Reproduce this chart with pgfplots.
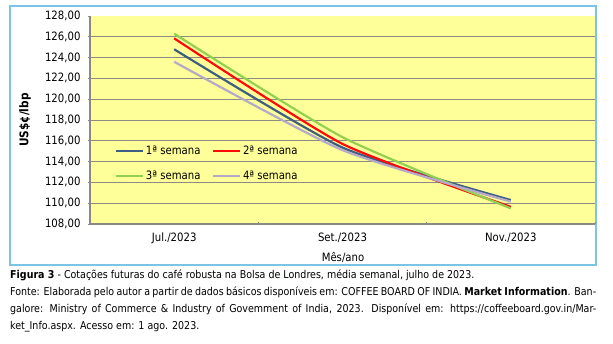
\documentclass[border=0pt]{standalone}
\usepackage{fontspec}
\setmainfont{DejaVu Sans}[FakeStretch=0.88]
\usepackage{pgfplots}
\pgfplotsset{compat=1.18}
\definecolor{bgyellow}{HTML}{FFFF99}
\definecolor{framecol}{HTML}{7CC4E6}
\definecolor{axisgray}{HTML}{8A8A80}
\definecolor{gridgray}{HTML}{8C8C84}
\definecolor{cA}{HTML}{3E5F82}
\definecolor{cB}{HTML}{FF0A0A}
\definecolor{cC}{HTML}{92D050}
\definecolor{cD}{HTML}{B4A9C9}
\begin{document}
\begin{tikzpicture}[x=1pt,y=1pt]
\path[use as bounding box] (0,0) rectangle (613,-344);
\draw[framecol, line width=1.2pt] (10,-6) rectangle (596,-265);
\begin{axis}[
  at={(90pt,-224pt)}, anchor=south west,
  scale only axis, width=505pt, height=208pt,
  xmin=-0.5, xmax=2.5, ymin=108, ymax=128,
  axis background/.style={fill=bgyellow},
  axis x line=bottom, axis y line=left,
  axis line style={-, draw=axisgray, line width=1.8pt},
  xtick={0,1,2},
  xticklabels={Jul./2023, Set./2023, Nov./2023},
  x tick style={draw=none},
  xticklabel style={yshift=-3pt},
  extra x ticks={0.5,1.5,2.5},
  extra x tick labels={},
  extra x tick style={x tick style={draw=axisgray, line width=1pt}, major tick length=2pt, tick align=inside},
  ytick={108,110,...,128},
  y tick style={draw=axisgray, line width=0.8pt},
  major tick length=2pt,
  tick align=outside,
  extra y ticks={110,112,...,126},
  extra y tick labels={},
  extra y tick style={grid=major, major tick length=0pt},
  grid style={draw=gridgray, line width=0.9pt},
  yticklabel style={xshift=-4pt},
  ticklabel style={font=\fontsize{11.5}{13}\selectfont},
  /pgf/number format/.cd, fixed, fixed zerofill, precision=2, use comma, 1000 sep={}, assume math mode=true,
  /pgfplots/.cd,
  legend columns=2,
  legend style={at={(0.042,0.29)}, anchor=west, draw=none, fill=none,
    font=\fontsize{11.5}{13}\selectfont, row sep=11pt,
    /tikz/every even column/.append style={column sep=9pt}},
  legend cell align=left,
  legend image code/.code={\draw[#1, line width=2.5pt] (0pt,0pt) -- (27pt,0pt);},
]
\addplot[cA, line width=2.2pt, smooth, tension=0.35] coordinates {(0,124.8) (1,115.35) (2,110.3)};
\addlegendentry{1ª semana}
\addplot[cB, line width=2.2pt, smooth, tension=0.35] coordinates {(0,125.85) (1,115.7) (2,109.65)};
\addlegendentry{2ª semana}
\addplot[cC, line width=2.2pt, smooth, tension=0.35] coordinates {(0,126.3) (1,116.35) (2,109.5)};
\addlegendentry{3ª semana}
\addplot[cD, line width=2.2pt, smooth, tension=0.35] coordinates {(0,123.6) (1,115.1) (2,110.15)};
\addlegendentry{4ª semana}
\end{axis}
\node[rotate=90, font=\fontsize{12}{14}\selectfont\bfseries] at (25,-120) {US\$¢/lbp};
\node[font=\fontsize{11.5}{13}\selectfont] at (343,-257) {Mês/ano};
\begin{scope}[every node/.style={anchor=base west, inner sep=0pt, font=\fontsize{10.8}{13}\selectfont}]
\node at (10,-279) {\textbf{Figura 3} - Cotações futuras do café robusta na Bolsa de Londres, média semanal, julho de 2023.};
\node at (10,-296) {\makebox[586pt][s]{Fonte: Elaborada pelo autor a partir de dados básicos disponíveis em: COFFEE BOARD OF INDIA. \textbf{Market Information}. Ban-}};
\node at (10,-313) {\makebox[586pt][s]{galore: Ministry of Commerce \& Industry of Govemment of India, 2023. Disponível em: https://coffeeboard.gov.in/Mar-}};
\node at (10,-330) {ket\_Info.aspx. Acesso em: 1 ago. 2023.};
\end{scope}
\end{tikzpicture}
\end{document}
